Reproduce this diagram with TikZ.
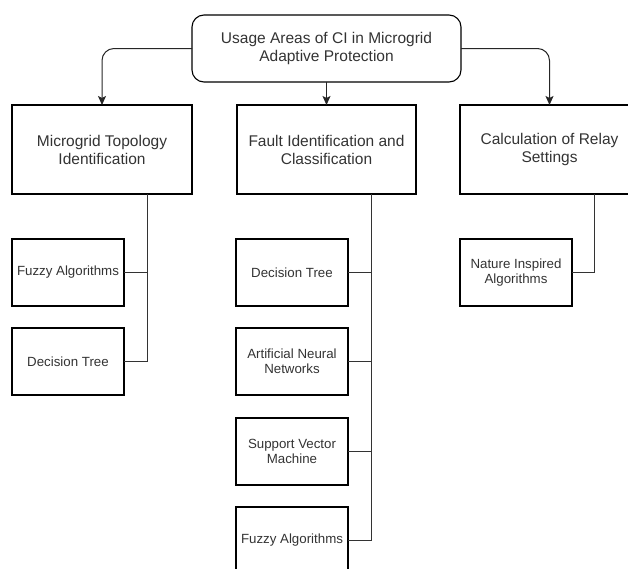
\documentclass[tikz,border=0pt]{standalone}
\usepackage{fontspec}
\setmainfont{Liberation Sans}
\usetikzlibrary{arrows.meta}
\begin{document}
\begin{tikzpicture}[x=1pt,y=-1pt,
  every node/.style={inner sep=0pt,outer sep=0pt,align=center,text=black!80},
  box/.style={draw=black,line width=1.1pt,rectangle},
  rootbox/.style={box,rounded corners=12pt,minimum width=269pt,minimum height=67pt,
    font=\fontsize{15.5}{18}\selectfont},
  areabox/.style={box,minimum width=179pt,minimum height=89pt,
    font=\fontsize{15.5}{18}\selectfont},
  leafbox/.style={box,minimum width=112pt,minimum height=67pt,
    font=\fontsize{13.3}{15.3}\selectfont},
  arr/.style={draw=black!85,line width=1pt,rounded corners=12pt,
    -{Stealth[length=9pt,width=8pt,inset=2pt]}},
  bus/.style={draw=black!80,line width=1pt}
]
\useasboundingbox (0,0) rectangle (628,568);
\clip (0,0) rectangle (628,568);

% root and the three usage areas
\node[rootbox] (root) at (326.5,48.5) {Usage Areas of CI in Microgrid\\Adaptive Protection};
\node[areabox,minimum width=180pt] (topo) at (102,149.5) {Microgrid Topology\\Identification};
\node[areabox] (fault) at (326.5,149.5) {Fault Identification and\\Classification};
\node[areabox] (relay) at (549.5,149.5) {Calculation of Relay\\Settings};

% methods under each area
\node[leafbox] (tfz) at (68,272.5) {Fuzzy Algorithms};
\node[leafbox] (tdt) at (68,361.5) {Decision Tree};

\node[leafbox] (fdt)  at (292,272.5) {Decision Tree};
\node[leafbox] (fann) at (292,361.5) {Artificial Neural\\Networks};
\node[leafbox] (fsvm) at (292,451.5) {Support Vector\\Machine};
\node[leafbox] (ffz)  at (292,540.5) {Fuzzy Algorithms};

\node[leafbox] (rnat) at (516,272.5) {Nature Inspired\\Algorithms};

% arrows from the root
\draw[arr] (root.west) -| (topo.north);
\draw[arr] (root.south) -- (fault.north);
\draw[arr] (root.east) -| (relay.north);

% vertical buses
\coordinate (tbus) at (147,0);
\coordinate (fbus) at (371,0);
\coordinate (rbus) at (594,0);

\draw[bus] (tbus |- topo.south) |- (tdt.east);
\draw[bus] (tbus |- tfz.east) -- (tfz.east);

\draw[bus] (fbus |- fault.south) |- (ffz.east);
\draw[bus] (fbus |- fdt.east) -- (fdt.east);
\draw[bus] (fbus |- fann.east) -- (fann.east);
\draw[bus] (fbus |- fsvm.east) -- (fsvm.east);

\draw[bus] (rbus |- relay.south) |- (rnat.east);
\end{tikzpicture}
\end{document}
